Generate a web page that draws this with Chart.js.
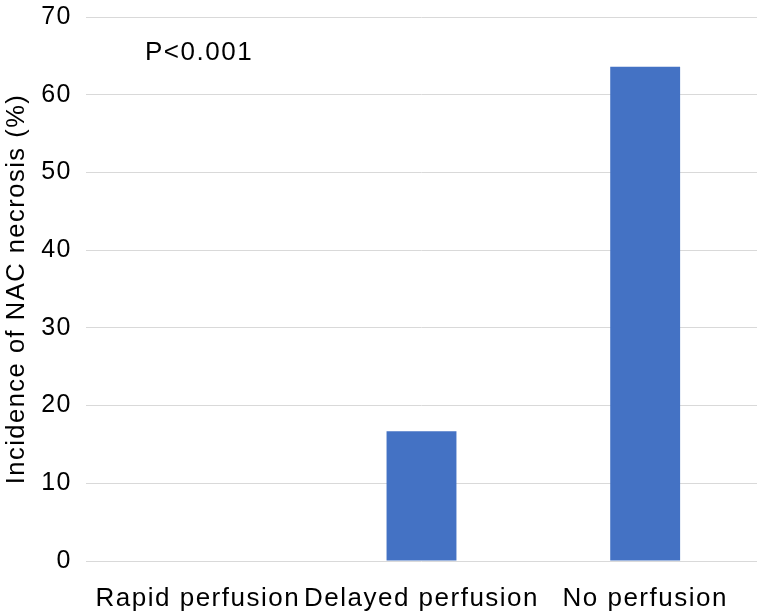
<!DOCTYPE html>
<html>
<head>
<meta charset="utf-8">
<script src="https://cdn.jsdelivr.net/npm/chart.js@4"></script>
<style>
  html, body { margin: 0; padding: 0; background: #fff; }
  #wrap { width: 760px; height: 616px; }
</style>
</head>
<body>
<div id="wrap"><canvas id="chart" width="760" height="616"></canvas></div>
<script>
const categories = ['Rapid perfusion', 'Delayed perfusion', 'No perfusion'];
const necrosisRate = [0, 16.7, 63.6];
const yTicks = [0, 10, 20, 30, 40, 50, 60, 70];
const pNote = 'P<0.001';

const FONT = 'Helvetica, "Liberation Sans", Arial, sans-serif';

// the original uses a loosely tracked Helvetica
const TRACKING = '1.5px';
const trackingPlugin = {
  id: 'tracking',
  beforeUpdate(chart) { chart.ctx.letterSpacing = TRACKING; },
  beforeLayout(chart) { chart.ctx.letterSpacing = TRACKING; },
  beforeDraw(chart) { chart.ctx.letterSpacing = TRACKING; }
};

// the p-value note in the top-left of the plot
const notePlugin = {
  id: 'pNote',
  afterDraw(chart) {
    const { ctx, chartArea } = chart;
    ctx.save();
    ctx.font = '26px ' + FONT;
    ctx.fillStyle = '#000';
    ctx.textBaseline = 'middle';
    ctx.fillText(pNote, chartArea.left + 59, chartArea.top + 36);
    ctx.restore();
  }
};

new Chart(document.getElementById('chart'), {
  type: 'bar',
  data: {
    labels: categories,
    datasets: [{
      data: necrosisRate,
      backgroundColor: '#4472C4',
      borderWidth: 0,
      barPercentage: 0.625,
      categoryPercentage: 0.5
    }]
  },
  options: {
    responsive: false,
    animation: false,
    layout: { padding: { top: 17, right: 3, left: 0, bottom: 0 } },
    scales: {
      x: {
        grid: { display: false, drawTicks: false },
        border: { display: false },
        ticks: {
          color: '#000',
          font: { family: FONT, size: 26 },
          padding: 22,
          maxRotation: 0,
          minRotation: 0,
          autoSkip: false
        },
        afterFit(scale) { scale.height = 55; scale.paddingLeft = 0; scale.paddingRight = 0; }
      },
      y: {
        min: 0,
        max: 70,
        afterBuildTicks(scale) { scale.ticks = yTicks.map(v => ({ value: v })); },
        grid: { color: '#d9d9d9', lineWidth: 1, drawTicks: false },
        border: { display: false },
        ticks: { color: '#000', font: { family: FONT, size: 25 }, padding: 14 },
        title: {
          display: true,
          text: 'Incidence of NAC necrosis (%)',
          color: '#000',
          font: { family: FONT, size: 25.5 },
          padding: { top: 2, bottom: 0 }
        },
        afterFit(scale) { scale.width = 86; scale.paddingTop = 0; scale.paddingBottom = 0; }
      }
    },
    plugins: {
      legend: { display: false },
      tooltip: { enabled: false }
    }
  },
  plugins: [trackingPlugin, notePlugin]
});
</script>
</body>
</html>
